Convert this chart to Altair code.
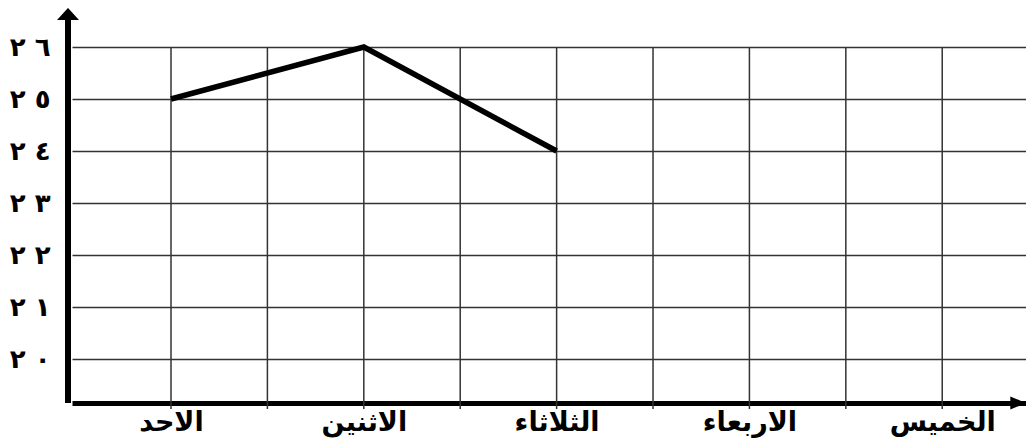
import altair as alt
import pandas as pd

# ---- data ----
days = ["الاحد", "الاثنين", "الثلاثاء", "الاربعاء", "الخميس"]
day_pos = [0, 2, 4, 6, 8]          # each day sits on every second grid column
temps = [25, 26, 24]               # only Sun, Mon, Tue are plotted
y_ticks = [20, 21, 22, 23, 24, 25, 26]
LRM = "\u200e"
y_labels = [f"٢{LRM} {LRM}{d}" for d in ["٠", "١", "٢", "٣", "٤", "٥", "٦"]]
grid_cols = list(range(9))

X_DOMAIN = [-1.027, 8.869]
Y_DOMAIN = [19.154, 26.635]
GRID_TOP = 26
GRID_BOTTOM = 19.04

W, H = 954, 389
FONT = "DejaVu Sans"

xscale = alt.Scale(domain=X_DOMAIN, nice=False, zero=False)
yscale = alt.Scale(domain=Y_DOMAIN, nice=False, zero=False)

x_label_arr = "[" + ",".join("'%s'" % d for d in days) + "]"
y_label_arr = "[" + ",".join("'%s'" % d for d in y_labels) + "]"

x_axis = alt.Axis(
    values=day_pos, labelExpr=f"{x_label_arr}[datum.value / 2]",
    grid=False, ticks=False, domain=True, domainColor="black", domainWidth=5,
    labelPadding=6, labelFont=FONT, labelFontSize=27, labelFontWeight="bold",
    labelColor="black", title=None,
)
y_axis = alt.Axis(
    values=y_ticks, labelExpr=f"{y_label_arr}[datum.value - 20]",
    grid=True, gridColor="#333333", gridWidth=1.5, domain=False, ticks=False,
    labelPadding=22, labelFont=FONT, labelFontSize=26, labelFontWeight="bold",
    labelColor="black", title=None,
)

vgrid_df = pd.DataFrame({"k": grid_cols, "top": [GRID_TOP] * len(grid_cols),
                         "bottom": [GRID_BOTTOM] * len(grid_cols)})
line_df = pd.DataFrame({"pos": day_pos[:len(temps)], "temp": temps})

vgrid = alt.Chart(vgrid_df).mark_rule(color="#333333", strokeWidth=1.5).encode(
    x=alt.X("k:Q", scale=xscale, axis=x_axis),
    y=alt.Y("top:Q", scale=yscale, axis=y_axis),
    y2="bottom:Q",
)

line = alt.Chart(line_df).mark_line(
    color="black", strokeWidth=5.5, strokeJoin="miter", strokeCap="butt"
).encode(
    x=alt.X("pos:Q", scale=xscale, axis=x_axis),
    y=alt.Y("temp:Q", scale=yscale, axis=y_axis),
)

anchor = pd.DataFrame({"a": [0]})

y_axis_line = alt.Chart(anchor).mark_rule(color="black", strokeWidth=6).encode(
    x=alt.value(-4), y=alt.value(6), y2=alt.value(H)
)

up_arrow = alt.Chart(anchor).mark_point(
    shape="M0,-0.55L-1,0.55L1,0.55Z", filled=True, size=484,
    color="black", opacity=1, strokeWidth=0,
).encode(x=alt.value(-4), y=alt.value(0))

right_arrow = alt.Chart(anchor).mark_point(
    shape="M0.7,0L-0.7,-0.6L-0.7,0.6Z", filled=True, size=484,
    color="black", opacity=1, strokeWidth=0,
).encode(x=alt.value(W - 8), y=alt.value(H))

chart = alt.layer(vgrid, line, y_axis_line, up_arrow, right_arrow).properties(
    width=W, height=H, autosize="none",
    padding={"left": 64, "top": 6, "right": 0, "bottom": 40},
    background="white",
).configure_view(stroke=None)

chart.save("out.html", embed_options={"renderer": "svg", "actions": False})
